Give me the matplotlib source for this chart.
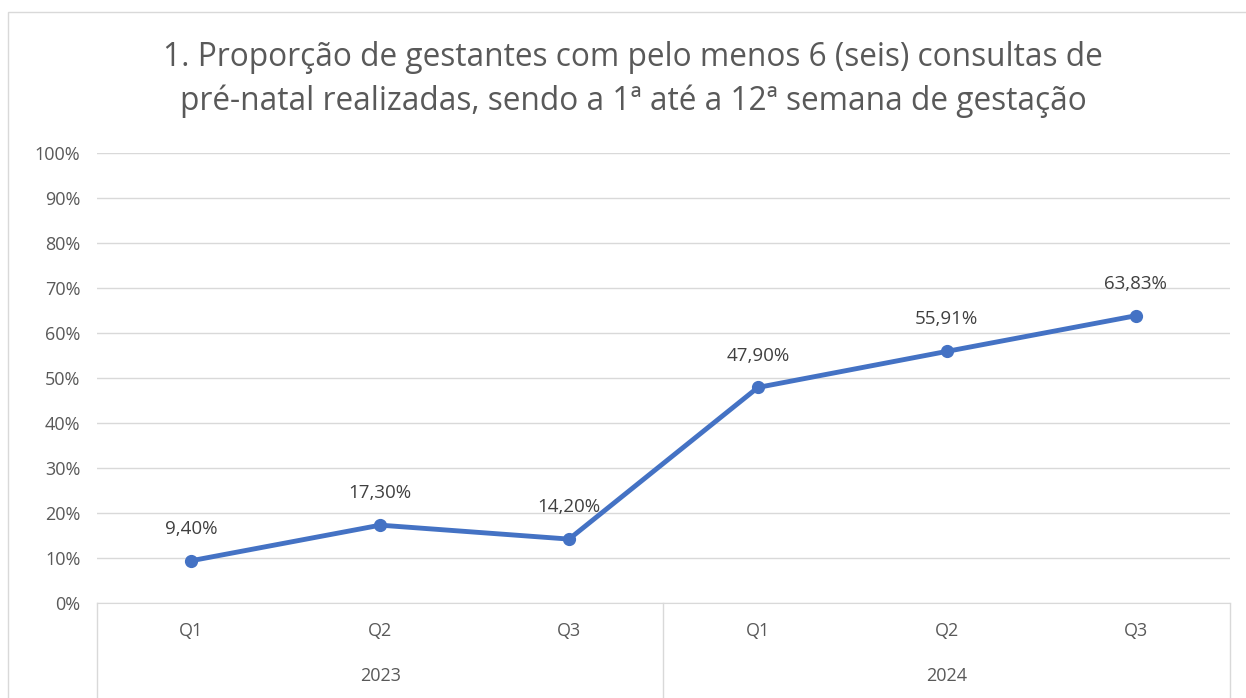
import matplotlib.pyplot as plt
import matplotlib.transforms as mtransforms
from matplotlib.patches import Rectangle

plt.rcParams['font.family'] = ['Open Sans', 'DejaVu Sans']

quarters = ['Q1', 'Q2', 'Q3', 'Q1', 'Q2', 'Q3']
years = ['2023', '2024']
values = [9.40, 17.30, 14.20, 47.90, 55.91, 63.83]
labels = ['9,40%', '17,30%', '14,20%', '47,90%', '55,91%', '63,83%']

grey = '#595959'
gridc = '#D9D9D9'
blue = '#4472C4'

fig = plt.figure(figsize=(12.46, 6.98), dpi=100)
fig.patches.append(Rectangle((8 / 1246, -0.1), 1.2, 1 - 12 / 698 + 0.1,
                             transform=fig.transFigure, fill=False,
                             edgecolor=gridc, linewidth=1))

ax = fig.add_axes([97 / 1246, 1 - 603 / 698, (1230 - 97) / 1246, 450 / 698])
x = list(range(len(values)))
ax.plot(x, values, color=blue, linewidth=3.5, marker='o', markersize=8.5,
        solid_capstyle='round')
for xi, v, lab in zip(x, values, labels):
    ax.annotate(lab, (xi, v), xytext=(0, 23), textcoords='offset points',
                ha='center', va='center', fontsize=13.5, color='#404040')

ax.set_xlim(-0.5, 5.5)
ax.set_ylim(0, 100)
ax.set_yticks(range(0, 101, 10))
ax.set_yticklabels([f'{t}%' for t in range(0, 101, 10)], fontsize=13, color=grey)
ax.grid(axis='y', color=gridc, linewidth=1)
ax.set_axisbelow(True)
ax.tick_params(axis='y', length=0, pad=12)
ax.set_xticks(x)
ax.set_xticklabels(quarters, fontsize=13, color=grey)
ax.tick_params(axis='x', length=0, pad=14)
for s in ['top', 'right', 'left']:
    ax.spines[s].set_visible(False)
ax.spines['bottom'].set_color(gridc)

trans = mtransforms.blended_transform_factory(ax.transData, ax.transAxes)
for b in [-0.5, 2.5, 5.5]:
    ax.plot([b, b], [0, -0.25], color=gridc, linewidth=1, transform=trans,
            clip_on=False)
for i, yr in enumerate(years):
    ax.text(i * 3 + 1, -0.162, yr, transform=trans, ha='center', va='center',
            fontsize=13, color=grey)

fig.text(633 / 1246, 1 - 57 / 698,
         '1. Proporção de gestantes com pelo menos 6 (seis) consultas de',
         ha='center', va='center', fontsize=22.8, color=grey)
fig.text(633 / 1246, 1 - 101 / 698,
         'pré-natal realizadas, sendo a 1ª até a 12ª semana de gestação',
         ha='center', va='center', fontsize=22.8, color=grey)

fig.savefig('out.png', dpi=100)
